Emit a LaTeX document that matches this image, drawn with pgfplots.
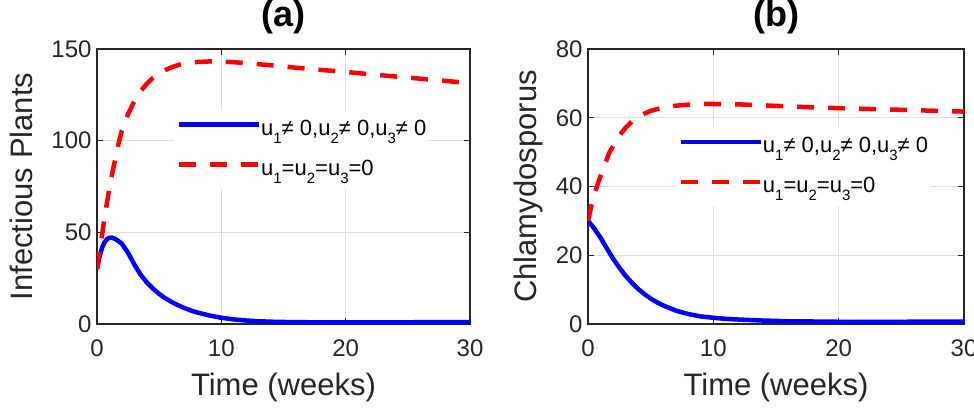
\documentclass[border=0pt]{standalone}
\usepackage{pgfplots}
\pgfplotsset{compat=1.18}
\usepackage{fontspec}
\setmainfont{Liberation Sans}
\setsansfont{Liberation Sans}

\definecolor{gridgray}{gray}{0.87}
\definecolor{axisgray}{gray}{0.15}

% MATLAB-style subscripts in the legend
\newcommand{\sub}[1]{\raisebox{-0.38em}[0pt][0pt]{\fontsize{15}{15}\selectfont #1}}
\newcommand{\legA}{u\sub{1}≠ 0,u\sub{2}≠ 0,u\sub{3}≠ 0}
\newcommand{\legB}{u\sub{1}=u\sub{2}=u\sub{3}=0}

\pgfplotsset{
  matlab/.style={
    scale only axis,
    anchor=south west,
    height=275pt,
    xmin=0, xmax=30, xtick={0,10,20,30},
    ymin=0,
    grid=major,
    major grid style={gridgray, line width=0.8pt},
    axis line style={axisgray, line width=1.3pt},
    every tick/.style={axisgray, line width=1.3pt},
    major tick length=6pt,
    tick align=inside,
    tick label style={font=\fontsize{24}{24}\selectfont, text=axisgray},
    xticklabel style={yshift=-12pt},
    yticklabel style={xshift=-2pt},
    /pgf/number format/assume math mode=true,
    label style={font=\fontsize{31}{31}\selectfont, text=axisgray},
    title style={font=\fontsize{36}{36}\selectfont\bfseries, at={(axis description cs:0.5,1)}, anchor=base, yshift=16pt},
    xlabel style={at={(axis description cs:0.5,0)}, anchor=base, yshift=-71pt},
    legend style={draw=none, fill=white, font=\fontsize{22}{22}\selectfont,
      anchor=north west, inner xsep=3pt, inner ysep=10pt, row sep=21pt,
      nodes={inner sep=0pt, text height=15pt, text depth=4pt},
      /tikz/every even column/.append style={column sep=7pt}},
    legend cell align=left,
    legend image code/.code={\draw[##1] (0pt,5pt) -- (80pt,5pt);},
  },
  ctrl/.style={blue, line width=4.5pt},
  noctrl/.style={red, line width=4.5pt, dash pattern=on 17pt off 14pt},
}

\begin{document}
\begin{tikzpicture}
\useasboundingbox (0,0) rectangle (974pt,407pt);

% (a) infectious plants
\begin{axis}[matlab,
  at={(97pt,83pt)}, width=373pt,
  ymax=150, ytick={0,50,100,150},
  title={(a)}, xlabel={Time (weeks)}, ylabel={Infectious Plants},
  ylabel style={at={(axis description cs:-0.172,0.5)}, anchor=base},
  legend style={at={(0.205,0.778)}},
]
\addplot[ctrl] coordinates {
(0,30) (0.2,36.5) (0.4,41.5) (0.6,44.5) (0.8,46.3) (1.0,47) (1.2,47.1)
(1.5,46.3) (2.0,43.8) (2.5,38.8) (3.0,32.5) (3.5,27) (4.0,22.7) (4.5,19.3)
(5.0,16.4) (5.5,14.0) (6.0,12.0) (6.5,10.3) (7.0,8.8) (7.5,7.5) (8.0,6.4)
(9.0,4.7) (10,3.4) (11,2.5) (12,1.9) (13,1.5) (14,1.25) (15,1.1) (17,0.95)
(20,0.9) (25,0.95) (30,1.0)};
\addlegendentry{\legA}
\addplot[noctrl] coordinates {
(0,30) (0.25,41.5) (0.5,53) (0.75,64) (1.0,74) (1.25,83) (1.5,91) (1.75,99)
(2.0,105.5) (2.5,114.5) (3.0,121.5) (3.5,127) (4.0,131) (4.5,134.3) (5.0,136.5)
(5.5,138.5) (6.0,140) (6.5,141.2) (7.0,142) (8.0,142.9) (9.0,143.2) (10,143.2)
(11,142.8) (12,142.3) (14,141.1) (16,139.8) (18,138.6) (20,137.5) (22,136.2)
(24,135) (26,133.8) (28,132.6) (30,131.4)};
\addlegendentry{\legB}
\end{axis}

% (b) chlamydospores
\begin{axis}[matlab,
  at={(588pt,83pt)}, width=376pt,
  ymax=80, ytick={0,20,40,60,80},
  title={(b)}, xlabel={Time (weeks)}, ylabel={Chlamydosporus},
  ylabel style={at={(axis description cs:-0.136,0.5)}, anchor=base},
  legend style={at={(0.232,0.716)}},
]
\addplot[ctrl] coordinates {
(0,30) (0.5,27.8) (1.0,25.1) (1.5,22.0) (2.0,19.0) (2.5,16.4) (3.0,14.0)
(3.5,12.0) (4.0,10.2) (4.5,8.7) (5.0,7.4) (5.5,6.3) (6.0,5.4) (7.0,3.9)
(8.0,2.9) (9.0,2.2) (10,1.8) (11,1.5) (12,1.3) (14,1.0) (16,0.8) (20,0.65)
(25,0.65) (30,0.7)};
\addlegendentry{\legA}
\addplot[noctrl] coordinates {
(0,30) (0.4,36.5) (0.8,41) (1.2,45) (1.68,49.7) (2.0,51.8) (2.5,54.8)
(3.0,57.1) (3.5,58.9) (4.0,60.2) (4.5,61.2) (5.0,62) (5.5,62.5) (6.0,62.9)
(7,63.5) (8,63.8) (9,64) (10,64) (12,63.9) (14,63.6) (16,63.3) (18,63.0)
(20,62.8) (22,62.6) (24,62.4) (26,62.2) (28,62) (30,61.8)};
\addlegendentry{\legB}
\end{axis}
\end{tikzpicture}
\end{document}
